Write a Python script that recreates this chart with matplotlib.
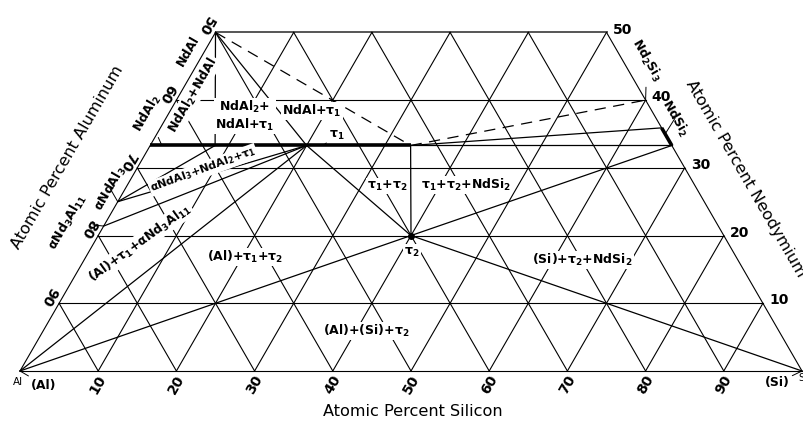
import numpy as np
import matplotlib.pyplot as plt

plt.rcParams['font.family'] = 'DejaVu Sans'
plt.rcParams['mathtext.default'] = 'regular'

# compositions as (at.% Si, at.% Nd); Al is the balance
NdAl = (0, 50)
NdAl2 = (0, 33.3)
A_pt = (8.3, 33.3)      # end of NdAl tie line on NdAl2/tau1 range
tau1 = (20, 33.3)
B_pt = (33.3, 33.3)     # Si-rich end of tau1 range
tau2 = (40, 20)
aNdAl3 = (0, 25)
aNd3Al11 = (0, 21.4)
Nd2Si3 = (60, 40)
NdSi2 = (66.7, 33.3)
NdSi2_hi = (64.1, 35.9)
Al = (0, 0)
Si = (100, 0)

solid_ties = [(NdAl, A_pt), (NdAl, tau1), (B_pt, NdSi2_hi), (B_pt, NdSi2),
              (B_pt, tau2), (tau1, tau2), (tau2, NdSi2), (tau2, Si), (tau2, Al),
              (Al, tau1), (aNd3Al11, tau1), (aNdAl3, tau1), (aNdAl3, A_pt)]
dashed_ties = [(NdAl, B_pt), (B_pt, Nd2Si3)]
thick_ranges = [(NdAl2, B_pt), (NdSi2, NdSi2_hi)]

grid_vals = [10, 20, 30, 40, 50, 60, 70, 80, 90]
nd_levels = [10, 20, 30, 40, 50]


def tern(si, nd):
    return si / 100 + nd / 200, nd / 100 * np.sqrt(3) / 2


def seg(p, q, **kw):
    x0, y0 = tern(*p)
    x1, y1 = tern(*q)
    ax.plot([x0, x1], [y0, y1], **kw)


fig = plt.figure(figsize=(8.04, 4.22), dpi=100)
ax = fig.add_axes([0, 0, 1, 1])
ax.set_xlim(-20 / 782, 784 / 782)
ax.set_ylim(-51 / 782, 371 / 782)
ax.axis('off')

gk = dict(color='black', lw=0.8, zorder=1)
# outline
seg(Al, Si, **gk)
seg(Al, NdAl, **gk)
seg(Si, (50, 50), **gk)
# grid
for nd in nd_levels:
    if nd == 50:
        seg((0, nd), (100 - nd, nd), color='#555555', lw=1.4, zorder=1)
    else:
        seg((0, nd), (100 - nd, nd), **gk)
for s in grid_vals:
    seg((s, 0), (s, min(50, 100 - s)), **gk)
for a in grid_vals:
    top = min(50, 100 - a)
    seg((100 - a, 0), (100 - a - top, top), **gk)

# tie lines
for p, q in solid_ties:
    seg(p, q, color='black', lw=0.9, zorder=2)
for p, q in dashed_ties:
    seg(p, q, color='black', lw=0.9, dashes=(9, 6), zorder=2)
for p, q in thick_ranges:
    seg(p, q, color='black', lw=2.6, solid_capstyle='butt', zorder=3)
ax.plot(*tern(*tau2), 'o', color='black', ms=4, zorder=4)

# tick labels
tk = dict(fontsize=10, fontweight='bold', textcoords='offset points')
for s in grid_vals:
    ax.annotate(str(s), tern(s, 0), xytext=(0, -9.5), rotation=60,
                ha='center', va='center', **tk)
for nd in nd_levels:
    ax.annotate(str(100 - nd), tern(0, nd), xytext=(-7, 5), rotation=240,
                ha='center', va='center', **tk)
    ax.annotate(str(nd), tern(100 - nd, nd), xytext=(4.5, 2), ha='left',
                va='center', **tk)

# axis titles
ax.text(*tern(53.2, -6.05), 'Atomic Percent Silicon', fontsize=11.6,
        ha='center', va='center')
ax.text(*tern(-9.7, 31.6), 'Atomic Percent Aluminum', fontsize=11.6,
        rotation=60, ha='center', va='center')
ax.text(*tern(78.6, 28.4), 'Atomic Percent Neodymium', fontsize=11.6,
        rotation=-60, ha='center', va='center', clip_on=False)

# phase labels
wb = dict(facecolor='white', edgecolor='none', pad=0.8)
fs = 9
labels = [
    ('NdAl', (-2.1, 47.25), 60),
    ('NdAl$_2$+NdAl', (1.75, 40.75), 60),
    ('NdAl$_2$+\nNdAl+$\\tau_1$', (9.95, 37.65), 0),
    ('NdAl+$\\tau_1$', (18.1, 38.4), 0),
    ('$\\alpha$NdAl$_3$+NdAl$_2$+$\\tau_1$', (8.56, 29.7), 20),
    ('(Al)+$\\tau_1$+$\\alpha$Nd$_3$Al$_{11}$', (5.9, 18.9), 36),
    ('(Al)+$\\tau_1$+$\\tau_2$', (20.4, 16.83), 0),
    ('$\\tau_1$+$\\tau_2$', (33.3, 27.3), 0),
    ('$\\tau_1$+$\\tau_2$+NdSi$_2$', (43.3, 27.46), 0),
    ('$\\tau_2$', (41.3, 17.57), 0),
    ('(Si)+$\\tau_2$+NdSi$_2$', (63.7, 16.39), 0),
    ('(Al)+(Si)+$\\tau_2$', (41.3, 5.9), 0),
]
for txt, pos, rot in labels:
    size = 8 if rot == 20 else fs
    ax.text(*tern(*pos), txt, fontsize=size, fontweight='bold', rotation=rot,
            ha='center', va='center', bbox=wb, zorder=5, linespacing=1.1)

# labels with leader lines
lead = dict(arrowstyle='-', lw=0.7, color='black', shrinkA=0, shrinkB=0)
leaders = [
    ('NdAl$_2$', (1.5, 33.3), (-2.8, 38.1), 60),
    ('$\\alpha$NdAl$_3$', aNdAl3, (-2.0, 27.0), 60),
    ('$\\alpha$Nd$_3$Al$_{11}$', aNd3Al11, (-4.9, 22.0), 60),
    ('$\\tau_1$', (22.1, 33.3), (23.1, 34.85), 0),
    ('Nd$_2$Si$_3$', Nd2Si3, (57.2, 45.9), -60),
    ('NdSi$_2$', (65.0, 35.0), (65.1, 37.36), -60),
    ('(Al)', Al, (4.1, -2.07), 0),
    ('(Si)', Si, (97.7, -1.77), 0),
]
for txt, xy, pos, rot in leaders:
    ax.annotate(txt, tern(*xy), xytext=tern(*pos), rotation=rot,
                fontsize=fs, fontweight='bold', ha='center', va='center',
                arrowprops=lead, zorder=5)

ax.text(*tern(0.49, -1.62), 'Al', fontsize=7.5, ha='center', va='center')
ax.text(*tern(100.1, -1.03), 'Si', fontsize=7.5, ha='left', va='center',
        clip_on=False)

fig.savefig('out.png', dpi=100)
